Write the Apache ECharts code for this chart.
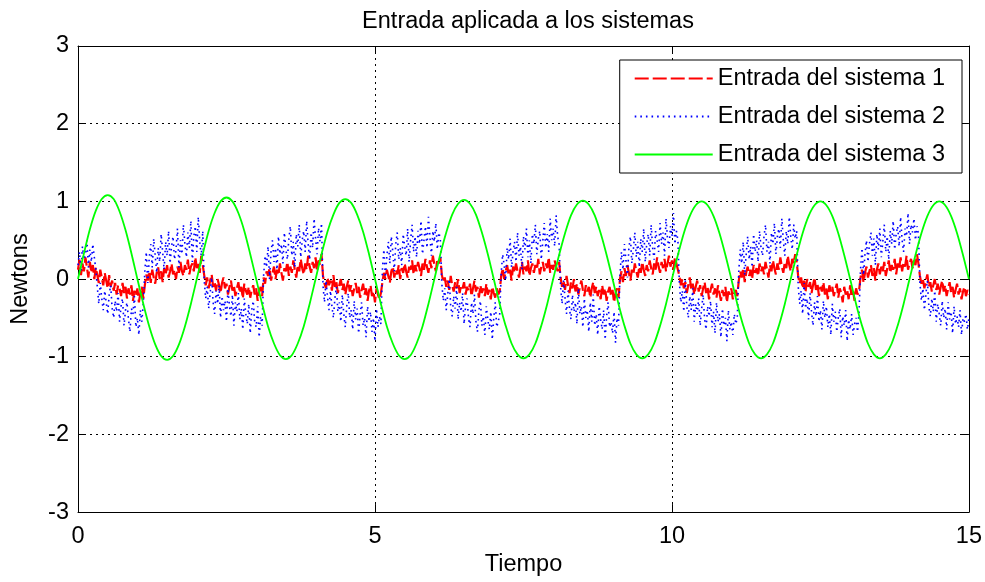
<!DOCTYPE html>
<html>
<head>
<meta charset="utf-8">
<script src="https://cdn.jsdelivr.net/npm/echarts@6/dist/echarts.min.js"></script>
<style>
  html, body { margin: 0; padding: 0; background: #fff; }
  #main { width: 985px; height: 582px; }
</style>
</head>
<body>
<div id="main"></div>
<script>
// paso de muestreo de las señales
var dtRuido = 0.025;  // entradas 1 y 2
var dtSeno = 0.1;     // entrada 3

var nombres = ['Entrada del sistema 1', 'Entrada del sistema 2', 'Entrada del sistema 3'];
var ticksX = [0, 5, 10, 15];
var ticksY = [-3, -2, -1, 0, 1, 2, 3];

// Entrada del sistema 1 (roja, discontinua), un bloque por línea
var entrada1 = [
  0.12, 0.25, 0.05, 0.2, 0.1, 0.28, 0.15, 0.02, 0.22, 0.08, 0.18, 0.0, 0.15, 0.05, -0.05, 0.12, 0.02, -0.08, 0.08, -0.02, -0.12, 0.05, -0.1, -0.02, -0.15, -0.05, -0.2, -0.08, -0.12, -0.22, -0.05, -0.18, -0.1, -0.25, -0.12, -0.2, -0.08, -0.28, -0.15, -0.22, -0.12, -0.3, -0.18, -0.1, -0.25,
  -0.08, 0.06, -0.02, 0.1, -0.05, 0.12, 0.02, -0.06, 0.08, 0.15, 0.0, 0.1, -0.04, 0.14, 0.05, 0.18, 0.02, 0.1, 0.2, 0.06, 0.12, 0.0, 0.16, 0.08, 0.22, 0.1, 0.04, 0.18, 0.12, 0.25, 0.06, 0.16, 0.2, 0.1, 0.28, 0.14, 0.22, 0.08, 0.3, 0.18,
  0.05, -0.08, 0.02, -0.12, -0.02, 0.06, -0.1, -0.04, -0.15, 0.0, -0.08, -0.18, -0.05, 0.02, -0.12, -0.06, -0.2, -0.1, -0.02, -0.15, -0.08, -0.22, -0.12, -0.04, -0.18, -0.1, -0.25, -0.06, -0.15, -0.2, -0.1, -0.24, -0.14, -0.08, -0.2, -0.12, -0.28, -0.16, -0.1, -0.22,
  0.02, -0.06, 0.1, 0.04, 0.14, -0.02, 0.08, 0.16, 0.0, 0.12, 0.05, 0.2, 0.08, -0.02, 0.14, 0.1, 0.22, 0.04, 0.16, 0.08, 0.24, 0.12, 0.02, 0.18, 0.1, 0.26, 0.14, 0.06, 0.2, 0.12, 0.3, 0.16, 0.08, 0.22, 0.14, 0.28, 0.1, 0.24, 0.18, 0.32,
  0.04, -0.06, -0.12, 0.02, -0.08, -0.02, -0.15, 0.05, -0.1, -0.04, -0.18, -0.08, 0.0, -0.14, -0.06, -0.2, -0.1, -0.02, -0.16, -0.08, -0.22, -0.12, -0.05, -0.18, -0.1, -0.24, -0.14, -0.06, -0.2, -0.12, -0.28, -0.15, -0.08, -0.22, -0.16, -0.3, -0.12, -0.2, -0.26, -0.18,
  -0.04, 0.08, 0.0, 0.12, 0.04, -0.05, 0.1, 0.16, 0.02, 0.12, 0.06, 0.18, 0.0, 0.14, 0.08, 0.2, 0.1, 0.02, 0.16, 0.12, 0.24, 0.06, 0.18, 0.1, 0.22, 0.14, 0.04, 0.2, 0.12, 0.26, 0.16, 0.08, 0.24, 0.14, 0.3, 0.18, 0.1, 0.26, 0.2, 0.28,
  0.06, -0.04, 0.02, -0.1, -0.02, -0.14, 0.04, -0.08, -0.16, -0.04, -0.12, 0.0, -0.18, -0.08, -0.12, -0.04, -0.2, -0.1, -0.15, -0.06, -0.22, -0.12, -0.02, -0.16, -0.1, -0.24, -0.08, -0.18, -0.12, -0.22, -0.06, -0.2, -0.14, -0.26, -0.1, -0.18, -0.24, -0.12, -0.2, -0.16,
  0.04, 0.14, 0.0, 0.1, 0.18, 0.06, 0.12, -0.02, 0.16, 0.08, 0.2, 0.1, 0.02, 0.14, 0.22, 0.06, 0.16, 0.1, 0.24, 0.04, 0.14, 0.2, 0.08, 0.18, 0.12, 0.26, 0.06, 0.16, 0.22, 0.1, 0.2, 0.14, 0.28, 0.08, 0.18, 0.12, 0.24, 0.16, 0.1, 0.22,
  0.02, -0.1, -0.02, -0.14, 0.04, -0.08, -0.18, -0.04, -0.12, 0.0, -0.16, -0.06, -0.2, -0.1, -0.02, -0.14, -0.22, -0.08, -0.16, -0.1, -0.24, -0.12, -0.04, -0.18, -0.1, -0.22, -0.14, -0.26, -0.08, -0.2, -0.12, -0.28, -0.16, -0.1, -0.22, -0.14, -0.3, -0.18, -0.12, -0.24,
  0.0, 0.1, -0.04, 0.14, 0.04, 0.18, 0.08, -0.02, 0.12, 0.06, 0.2, 0.1, 0.02, 0.16, 0.08, 0.22, 0.12, 0.04, 0.18, 0.1, 0.24, 0.14, 0.06, 0.2, 0.12, 0.28, 0.16, 0.08, 0.22, 0.14, 0.26, 0.1, 0.2, 0.3, 0.16, 0.24, 0.12, 0.28, 0.2, 0.22,
  0.04, -0.08, 0.0, -0.12, -0.04, -0.18, -0.08, 0.02, -0.14, -0.06, -0.2, -0.1, -0.02, -0.16, -0.08, -0.22, -0.12, -0.04, -0.18, -0.1, -0.26, -0.14, -0.06, -0.2, -0.12, -0.24, -0.08, -0.18, -0.28, -0.14, -0.22, -0.1, -0.3, -0.16, -0.2, -0.12, -0.26, -0.18, -0.14, -0.22,
  -0.02, 0.1, 0.02, 0.14, -0.04, 0.08, 0.16, 0.04, 0.12, 0.0, 0.18, 0.08, 0.14, 0.04, 0.2, 0.1, 0.16, 0.06, 0.22, 0.12, 0.02, 0.18, 0.1, 0.24, 0.14, 0.06, 0.2, 0.12, 0.28, 0.16, 0.08, 0.22, 0.14, 0.3, 0.18, 0.1, 0.26, 0.2, 0.32, 0.22,
  0.04, -0.06, 0.02, -0.12, -0.02, -0.16, 0.0, -0.1, -0.04, -0.18, -0.08, 0.02, -0.14, -0.06, -0.22, -0.1, -0.16, -0.04, -0.2, -0.12, -0.26, -0.08, -0.16, -0.1, -0.22, -0.14, -0.06, -0.24, -0.12, -0.18, -0.3, -0.1, -0.2, -0.14, -0.26, -0.08, -0.22, -0.16, -0.28, -0.12, -0.2, -0.15,
  0.02, 0.12, -0.04, 0.08, 0.16, 0.02, 0.1, 0.18, 0.04, 0.14, -0.02, 0.12, 0.2, 0.06, 0.16, 0.1, 0.22, 0.04, 0.14, 0.24, 0.08, 0.18, 0.12, 0.26, 0.06, 0.2, 0.14, 0.28, 0.1, 0.22, 0.16, 0.3, 0.12, 0.2, 0.26, 0.14, 0.24, 0.18, 0.32, 0.2,
  0.04, -0.06, 0.0, -0.12, -0.02, 0.06, -0.1, -0.04, -0.16, -0.08, 0.0, -0.14, -0.06, -0.2, -0.1, -0.02, -0.16, -0.08, -0.22, -0.12, -0.04, -0.18, -0.1, -0.24, -0.14, -0.06, -0.2, -0.12, -0.26, -0.16, -0.1, -0.22, -0.14, -0.2
];

// Entrada del sistema 2 (azul, punteada), un bloque por línea
var entrada2 = [
  0.18, 0.35, 0.1, 0.42, 0.25, 0.3, 0.5, 0.15, 0.38, 0.22, 0.45, 0.28, 0.12,
  -0.1, -0.32, -0.05, -0.25, -0.4, -0.15, -0.3, -0.45, -0.2, -0.08, -0.38, -0.5, -0.28, -0.42, -0.18, -0.55, -0.35, -0.25, -0.6, -0.4, -0.3, -0.52, -0.68, -0.38, -0.45, -0.22, -0.62, -0.5, -0.72, -0.4, -0.55, -0.3,
  0.1, 0.35, -0.05, 0.28, 0.45, 0.15, 0.52, 0.3, 0.08, 0.4, 0.22, 0.58, 0.35, 0.12, 0.48, 0.3, 0.62, 0.2, 0.42, 0.55, 0.25, 0.38, 0.65, 0.15, 0.5, 0.32, 0.7, 0.45, 0.28, 0.6, 0.4, 0.75, 0.22, 0.55, 0.68, 0.35, 0.8, 0.48, 0.3, 0.62,
  -0.02, -0.25, -0.1, -0.38, -0.18, 0.02, -0.3, -0.45, -0.15, -0.32, -0.08, -0.5, -0.22, -0.4, -0.28, -0.55, -0.12, -0.35, -0.48, -0.2, -0.6, -0.3, -0.42, -0.18, -0.52, -0.38, -0.65, -0.25, -0.45, -0.58, -0.32, -0.7, -0.4, -0.28, -0.55, -0.62, -0.35, -0.75, -0.48, -0.6,
  0.05, 0.3, 0.15, 0.42, 0.0, 0.35, 0.5, 0.22, 0.4, 0.12, 0.55, 0.32, 0.45, 0.2, 0.6, 0.38, 0.25, 0.52, 0.68, 0.3, 0.48, 0.15, 0.58, 0.42, 0.7, 0.28, 0.5, 0.62, 0.35, 0.75, 0.45, 0.25, 0.6, 0.4, 0.78, 0.52, 0.32, 0.66, 0.48, 0.72,
  -0.08, -0.3, -0.02, -0.22, -0.4, -0.15, -0.35, -0.5, -0.25, -0.1, -0.42, -0.3, -0.55, -0.2, -0.45, -0.62, -0.35, -0.18, -0.5, -0.4, -0.65, -0.28, -0.52, -0.38, -0.7, -0.45, -0.3, -0.6, -0.5, -0.75, -0.35, -0.55, -0.42, -0.68, -0.5, -0.8, -0.38, -0.62, -0.48, -0.58,
  0.12, 0.38, 0.02, 0.3, 0.48, 0.2, 0.55, 0.35, 0.1, 0.45, 0.6, 0.25, 0.4, 0.18, 0.58, 0.42, 0.3, 0.65, 0.22, 0.5, 0.7, 0.35, 0.55, 0.28, 0.62, 0.45, 0.75, 0.32, 0.5, 0.68, 0.4, 0.8, 0.55, 0.3, 0.62, 0.48, 0.72, 0.38, 0.6, 0.52,
  -0.05, -0.28, -0.12, -0.4, -0.2, 0.0, -0.35, -0.48, -0.22, -0.38, -0.1, -0.52, -0.3, -0.42, -0.18, -0.58, -0.35, -0.25, -0.5, -0.62, -0.3, -0.45, -0.2, -0.55, -0.68, -0.4, -0.28, -0.6, -0.48, -0.72, -0.35, -0.52, -0.65, -0.42, -0.78, -0.5, -0.3, -0.62, -0.55, -0.45,
  0.08, 0.32, 0.18, -0.02, 0.4, 0.25, 0.52, 0.15, 0.35, 0.48, 0.22, 0.6, 0.3, 0.42, 0.12, 0.55, 0.38, 0.65, 0.28, 0.5, 0.2, 0.58, 0.45, 0.7, 0.32, 0.52, 0.62, 0.25, 0.48, 0.72, 0.4, 0.58, 0.35, 0.78, 0.5, 0.65, 0.42, 0.82, 0.55, 0.45,
  -0.1, -0.32, -0.02, -0.25, -0.45, -0.15, -0.38, -0.52, -0.2, -0.42, -0.3, -0.58, -0.12, -0.45, -0.35, -0.62, -0.25, -0.5, -0.4, -0.68, -0.3, -0.55, -0.2, -0.6, -0.45, -0.72, -0.35, -0.52, -0.65, -0.4, -0.78, -0.48, -0.3, -0.62, -0.55, -0.7, -0.42, -0.82, -0.5, -0.6,
  0.05, 0.35, 0.12, 0.45, 0.25, 0.02, 0.4, 0.55, 0.2, 0.38, 0.6, 0.28, 0.48, 0.15, 0.52, 0.35, 0.65, 0.22, 0.45, 0.58, 0.3, 0.7, 0.4, 0.25, 0.62, 0.5, 0.35, 0.72, 0.45, 0.6, 0.3, 0.78, 0.52, 0.4, 0.68, 0.55, 0.85, 0.45, 0.62, 0.5,
  -0.05, -0.3, -0.15, -0.42, -0.02, -0.35, -0.5, -0.22, -0.4, -0.12, -0.55, -0.32, -0.45, -0.25, -0.6, -0.38, -0.2, -0.52, -0.65, -0.35, -0.48, -0.28, -0.62, -0.42, -0.7, -0.3, -0.55, -0.45, -0.75, -0.38, -0.6, -0.5, -0.8, -0.4, -0.65, -0.55, -0.72, -0.45, -0.58, -0.5,
  0.1, 0.38, 0.2, 0.48, 0.05, 0.32, 0.55, 0.25, 0.42, 0.15, 0.58, 0.35, 0.5, 0.22, 0.62, 0.4, 0.3, 0.55, 0.7, 0.35, 0.48, 0.2, 0.6, 0.45, 0.72, 0.32, 0.55, 0.65, 0.4, 0.78, 0.5, 0.3, 0.62, 0.45, 0.8, 0.55, 0.38, 0.7, 0.52, 0.62,
  -0.08, -0.32, -0.15, -0.45, -0.05, -0.38, -0.25, -0.52, -0.18, -0.42, -0.6, -0.3, -0.48, -0.22, -0.55, -0.4, -0.65, -0.28, -0.5, -0.35, -0.62, -0.45, -0.72, -0.32, -0.55, -0.42, -0.68, -0.5, -0.38, -0.75, -0.48, -0.6, -0.4, -0.8, -0.52, -0.65, -0.45, -0.72, -0.58, -0.5, -0.68, -0.42,
  0.12, 0.4, 0.05, 0.32, 0.5, 0.22, 0.45, 0.6, 0.3, 0.52, 0.18, 0.58, 0.38, 0.65, 0.28, 0.48, 0.7, 0.35, 0.55, 0.25, 0.62, 0.45, 0.75, 0.38, 0.58, 0.68, 0.42, 0.8, 0.5, 0.35, 0.65, 0.55, 0.85, 0.45, 0.7, 0.6, 0.78, 0.5, 0.68, 0.58,
  -0.05, -0.28, -0.12, -0.4, -0.2, -0.02, -0.35, -0.48, -0.25, -0.42, -0.15, -0.55, -0.32, -0.45, -0.6, -0.28, -0.5, -0.38, -0.65, -0.3, -0.52, -0.42, -0.7, -0.35, -0.58, -0.48, -0.62, -0.4, -0.72, -0.5, -0.55, -0.45, -0.65, -0.5
];

// Entrada del sistema 3 (verde, continua)
var entrada3 = [
  0, 0.33, 0.64, 0.88, 1.03, 1.08, 1.03, 0.87, 0.63, 0.33, 0, -0.32, -0.61, -0.84, -0.99, -1.04, -0.99, -0.84, -0.61, -0.32,
  0, 0.32, 0.62, 0.85, 1.0, 1.05, 1.0, 0.85, 0.62, 0.32, 0, -0.32, -0.61, -0.83, -0.98, -1.03, -0.98, -0.83, -0.61, -0.32,
  0, 0.32, 0.61, 0.83, 0.98, 1.03, 0.98, 0.83, 0.61, 0.32, 0, -0.32, -0.61, -0.83, -0.98, -1.03, -0.98, -0.83, -0.61, -0.32,
  0, 0.32, 0.6, 0.83, 0.97, 1.02, 0.97, 0.83, 0.6, 0.32, 0, -0.32, -0.6, -0.83, -0.97, -1.02, -0.97, -0.83, -0.6, -0.32,
  0, 0.31, 0.59, 0.82, 0.96, 1.01, 0.96, 0.82, 0.59, 0.31, 0, -0.32, -0.6, -0.83, -0.97, -1.02, -0.97, -0.83, -0.6, -0.32,
  0, 0.31, 0.59, 0.81, 0.95, 1.0, 0.95, 0.81, 0.59, 0.31, 0, -0.32, -0.6, -0.83, -0.97, -1.02, -0.97, -0.83, -0.6, -0.32,
  0, 0.31, 0.59, 0.81, 0.95, 1.0, 0.95, 0.81, 0.59, 0.31, 0, -0.32, -0.6, -0.83, -0.97, -1.02, -0.97, -0.83, -0.6, -0.32,
  0, 0.31, 0.59, 0.81, 0.95, 1.0, 0.95, 0.81, 0.59, 0.31, 0
];

function conTiempo(valores, dt) {
  return valores.map(function (v, i) { return [+(i * dt).toFixed(3), v]; });
}

var fuente = '"Liberation Sans", Arial, Helvetica, sans-serif';
var tam = 23.5;
var gridPunteado = { show: true, lineStyle: { color: '#000', width: 1, type: [2, 4] } };

var myChart = echarts.init(document.getElementById('main'), null, { renderer: 'canvas' });
myChart.setOption({
  animation: false,
  backgroundColor: '#fff',
  textStyle: { fontFamily: fuente },
  title: {
    text: 'Entrada aplicada a los sistemas',
    left: 523,
    textAlign: 'center',
    top: 5,
    textStyle: { fontFamily: fuente, fontSize: tam, fontWeight: 'normal', color: '#000' }
  },
  grid: { left: 78, right: 15, top: 46, bottom: 69, containLabel: false },
  legend: {
    orient: 'vertical',
    right: 23,
    top: 60,
    data: nombres,
    itemWidth: 78,
    itemHeight: 14,
    itemGap: 13,
    padding: [6, 17, 6, 14],
    borderColor: '#000',
    borderWidth: 1,
    borderRadius: 0,
    backgroundColor: '#fff',
    itemStyle: { opacity: 0 },
    textStyle: { fontFamily: fuente, fontSize: tam, color: '#000', lineHeight: 25 }
  },
  xAxis: [{
    type: 'value',
    min: ticksX[0], max: ticksX[ticksX.length - 1], interval: 5,
    name: 'Tiempo', nameLocation: 'middle', nameGap: 40,
    nameTextStyle: { fontFamily: fuente, fontSize: tam, color: '#000' },
    axisLine: { onZero: false, lineStyle: { color: '#000', width: 1 } },
    axisTick: { inside: true, length: 8, lineStyle: { color: '#000' } },
    axisLabel: { fontFamily: fuente, fontSize: tam, color: '#000', margin: 12 },
    splitLine: gridPunteado
  }, {
    type: 'value', position: 'top',
    min: ticksX[0], max: ticksX[ticksX.length - 1], interval: 5,
    axisLine: { onZero: false, lineStyle: { color: '#000', width: 1 } },
    axisTick: { inside: true, length: 8, lineStyle: { color: '#000' } },
    axisLabel: { show: false },
    splitLine: { show: false }
  }],
  yAxis: [{
    type: 'value',
    min: ticksY[0], max: ticksY[ticksY.length - 1], interval: 1,
    name: 'Newtons', nameLocation: 'middle', nameGap: 45,
    nameTextStyle: { fontFamily: fuente, fontSize: tam, color: '#000' },
    axisLine: { show: true, onZero: false, lineStyle: { color: '#000', width: 1 } },
    axisTick: { show: true, inside: true, length: 8, lineStyle: { color: '#000' } },
    axisLabel: { fontFamily: fuente, fontSize: tam, color: '#000', margin: 9 },
    splitLine: gridPunteado
  }, {
    type: 'value', position: 'right',
    min: ticksY[0], max: ticksY[ticksY.length - 1], interval: 1,
    axisLine: { show: true, onZero: false, lineStyle: { color: '#000', width: 1 } },
    axisTick: { show: true, inside: true, length: 8, lineStyle: { color: '#000' } },
    axisLabel: { show: false },
    splitLine: { show: false }
  }],
  series: [{
    name: nombres[0],
    type: 'line',
    data: conTiempo(entrada1, dtRuido),
    showSymbol: false,
    symbol: 'none',
    color: '#ff0000',
    lineStyle: { color: '#ff0000', width: 2.2, type: [14, 4] }
  }, {
    name: nombres[1],
    type: 'line',
    data: conTiempo(entrada2, dtRuido),
    showSymbol: false,
    symbol: 'none',
    color: '#0000ff',
    lineStyle: { color: '#0000ff', width: 1.6, type: [1.6, 4] }
  }, {
    name: nombres[2],
    type: 'line',
    data: conTiempo(entrada3, dtSeno),
    showSymbol: false,
    symbol: 'none',
    smooth: 0.3,
    color: '#00ff00',
    lineStyle: { color: '#00ff00', width: 1.8, type: 'solid' }
  }]
});
</script>
</body>
</html>
